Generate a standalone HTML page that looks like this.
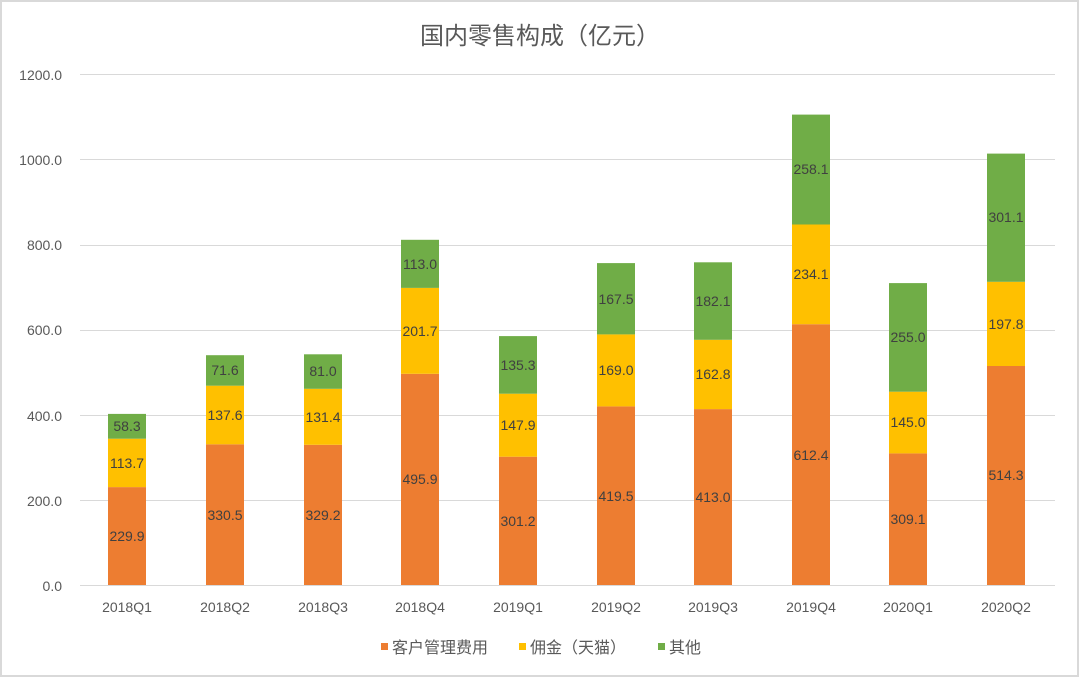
<!DOCTYPE html><html><head><meta charset="utf-8"><style>body{margin:0;background:#fff}svg{display:block}text{font-family:"Liberation Sans","Noto Sans CJK SC",sans-serif}</style></head><body>
<svg width="1080" height="678" viewBox="0 0 1080 678" xmlns="http://www.w3.org/2000/svg">
<rect x="1" y="1" width="1077" height="675" fill="#fff" stroke="#d9d9d9" stroke-width="2"/>
<text x="540" y="44" font-size="24" fill="#595959" text-anchor="middle">国内零售构成（亿元）</text>
<g stroke="#d9d9d9" stroke-width="1">
<line x1="80" y1="74.5" x2="1055" y2="74.5"/><line x1="80" y1="159.5" x2="1055" y2="159.5"/><line x1="80" y1="245.5" x2="1055" y2="245.5"/><line x1="80" y1="330.5" x2="1055" y2="330.5"/><line x1="80" y1="415.5" x2="1055" y2="415.5"/><line x1="80" y1="500.5" x2="1055" y2="500.5"/><line x1="80" y1="585.5" x2="1055" y2="585.5"/>
</g>
<g font-size="14" fill="#595959" text-anchor="end">
<text x="62" y="80">1200.0</text><text x="62" y="165">1000.0</text><text x="62" y="250">800.0</text><text x="62" y="335">600.0</text><text x="62" y="421">400.0</text><text x="62" y="506">200.0</text><text x="62" y="591">0.0</text>
</g>
<g>
<rect x="108" y="487.1" width="38" height="97.9" fill="#ED7D31"/><rect x="108" y="438.7" width="38" height="48.4" fill="#FFC000"/><rect x="108" y="413.9" width="38" height="24.8" fill="#70AD47"/>
<rect x="206" y="444.3" width="38" height="140.7" fill="#ED7D31"/><rect x="206" y="385.7" width="38" height="58.6" fill="#FFC000"/><rect x="206" y="355.2" width="38" height="30.5" fill="#70AD47"/>
<rect x="304" y="444.8" width="38" height="140.2" fill="#ED7D31"/><rect x="304" y="388.8" width="38" height="56" fill="#FFC000"/><rect x="304" y="354.3" width="38" height="34.5" fill="#70AD47"/>
<rect x="401" y="373.8" width="38" height="211.2" fill="#ED7D31"/><rect x="401" y="287.9" width="38" height="85.9" fill="#FFC000"/><rect x="401" y="239.8" width="38" height="48.1" fill="#70AD47"/>
<rect x="499" y="456.7" width="38" height="128.3" fill="#ED7D31"/><rect x="499" y="393.7" width="38" height="63" fill="#FFC000"/><rect x="499" y="336.1" width="38" height="57.6" fill="#70AD47"/>
<rect x="597" y="406.4" width="38" height="178.6" fill="#ED7D31"/><rect x="597" y="334.4" width="38" height="72" fill="#FFC000"/><rect x="597" y="263.1" width="38" height="71.3" fill="#70AD47"/>
<rect x="694" y="409.1" width="38" height="175.9" fill="#ED7D31"/><rect x="694" y="339.8" width="38" height="69.3" fill="#FFC000"/><rect x="694" y="262.3" width="38" height="77.5" fill="#70AD47"/>
<rect x="792" y="324.2" width="38" height="260.8" fill="#ED7D31"/><rect x="792" y="224.5" width="38" height="99.7" fill="#FFC000"/><rect x="792" y="114.6" width="38" height="109.9" fill="#70AD47"/>
<rect x="889" y="453.4" width="38" height="131.6" fill="#ED7D31"/><rect x="889" y="391.7" width="38" height="61.7" fill="#FFC000"/><rect x="889" y="283.1" width="38" height="108.6" fill="#70AD47"/>
<rect x="987" y="366" width="38" height="219" fill="#ED7D31"/><rect x="987" y="281.8" width="38" height="84.2" fill="#FFC000"/><rect x="987" y="153.6" width="38" height="128.2" fill="#70AD47"/>
</g>
<g font-size="14" fill="#404040" text-anchor="middle">
<text x="127" y="541">229.9</text><text x="127" y="468">113.7</text><text x="127" y="431">58.3</text>
<text x="225" y="520">330.5</text><text x="225" y="420">137.6</text><text x="225" y="375">71.6</text>
<text x="323" y="520">329.2</text><text x="323" y="422">131.4</text><text x="323" y="376">81.0</text>
<text x="420" y="484">495.9</text><text x="420" y="336">201.7</text><text x="420" y="269">113.0</text>
<text x="518" y="526">301.2</text><text x="518" y="430">147.9</text><text x="518" y="370">135.3</text>
<text x="616" y="501">419.5</text><text x="616" y="375">169.0</text><text x="616" y="304">167.5</text>
<text x="713" y="502">413.0</text><text x="713" y="379">162.8</text><text x="713" y="306">182.1</text>
<text x="811" y="460">612.4</text><text x="811" y="279">234.1</text><text x="811" y="174">258.1</text>
<text x="908" y="524">309.1</text><text x="908" y="427">145.0</text><text x="908" y="342">255.0</text>
<text x="1006" y="480">514.3</text><text x="1006" y="329">197.8</text><text x="1006" y="222">301.1</text>
</g>
<g font-size="14" fill="#595959" text-anchor="middle">
<text x="127" y="612">2018Q1</text><text x="225" y="612">2018Q2</text><text x="323" y="612">2018Q3</text><text x="420" y="612">2018Q4</text><text x="518" y="612">2019Q1</text><text x="616" y="612">2019Q2</text><text x="713" y="612">2019Q3</text><text x="811" y="612">2019Q4</text><text x="908" y="612">2020Q1</text><text x="1006" y="612">2020Q2</text>
</g>
<g font-size="16" fill="#595959">
<rect x="381" y="643" width="7" height="7" fill="#ED7D31"/><text x="392" y="653">客户管理费用</text>
<rect x="519" y="643" width="7" height="7" fill="#FFC000"/><text x="530" y="653">佣金（天猫）</text>
<rect x="658" y="643" width="7" height="7" fill="#70AD47"/><text x="669" y="653">其他</text>
</g>
</svg></body></html>
